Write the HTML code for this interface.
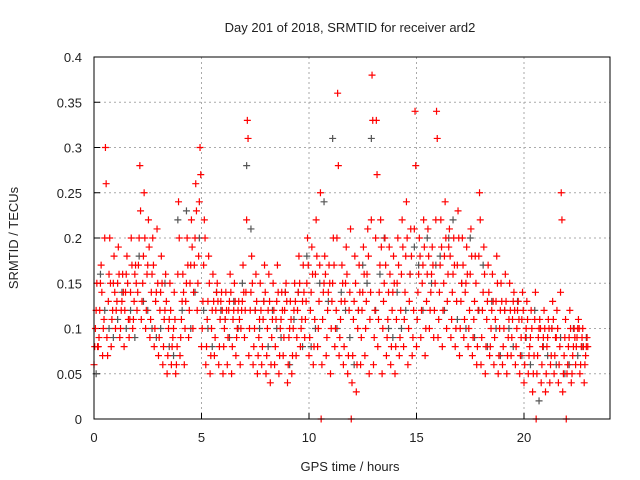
<!DOCTYPE html>
<html><head><meta charset="utf-8"><style>
html,body{margin:0;padding:0;background:#fff;}
svg{display:block;font-family:"Liberation Sans",sans-serif;}
</style></head><body>
<svg id="chart" width="640" height="480" viewBox="0 0 640 480">
<text x="350" y="32" font-size="13" text-anchor="middle" fill="#222">Day 201 of 2018, SRMTID for receiver ard2</text>
<text x="350" y="471" font-size="13" text-anchor="middle" fill="#222">GPS time / hours</text>
<text x="18" y="238" font-size="13" text-anchor="middle" fill="#222" transform="rotate(-90 18 238)">SRMTID / TECUs</text>
<g id="grid"></g>
<g id="ticks"></g>
<g id="gray"></g>
<g id="red"></g>
<rect x="94" y="57" width="516" height="362" fill="none" stroke="#000" stroke-width="1"/>
</svg>
<script>
const xTicks=[0,5,10,15,20];
const yTicks=[0,0.05,0.1,0.15,0.2,0.25,0.3,0.35,0.4];
const yTickLabels=["0","0.05","0.1","0.15","0.2","0.25","0.3","0.35","0.4"];
const timeStep=0.2;
const redA=[.06,.08,.07,.09,.08,.10,.09,.08,.11,.10,.12,.11,.10,.09,.08,.07,.06,.05,.06,.05,.07,.06,.09,.10,.12,.08,.06,.05,.07,.06,.05,.06,.05,.07,.06,.09,.07,.06,.05,.06,.05,.04,.06,.05,.07,.04,.05,.07,.08,.09,.07,.06,.08,.06,.07,.05,.08,.07,.06,.05,.04,.03,.06,.07,.05,.06,.08,.05,.07,.06,.05,.07,.08,.06,.07,.08,.09,.07,.10,.09,.09,.08,.10,.09,.08,.07,.09,.08,.07,.06,.06,.05,.07,.06,.05,.06,.05,.07,.06,.05,.04,.05,.03,.05,.04,.03,.04,.05,.04,.03,.05,.04,.06,.05,.04];
const redB=[.10,.12,.11,.13,.12,.13,.12,.14,.11,.13,.17,.15,.16,.14,.13,.12,.11,.10,.09,.08,.11,.13,.15,.17,.18,.13,.11,.10,.12,.11,.10,.12,.11,.10,.12,.14,.12,.10,.09,.11,.10,.09,.11,.10,.12,.09,.10,.12,.11,.13,.12,.11,.13,.14,.12,.13,.12,.11,.13,.12,.11,.10,.12,.13,.14,.12,.14,.13,.11,.12,.11,.12,.14,.13,.12,.14,.15,.13,.14,.15,.14,.15,.16,.14,.13,.13,.14,.12,.11,.12,.12,.11,.10,.11,.10,.10,.09,.11,.10,.09,.09,.08,.07,.09,.08,.08,.07,.09,.08,.07,.08,.07,.09,.08,.07];
const redC=[.15,.17,.30,.20,.18,.19,.16,.18,.20,.17,.28,.25,.22,.20,.21,.18,.16,.15,.14,.24,.16,.20,.22,.26,.30,.22,.18,.16,.15,.14,.14,.16,.15,.13,.17,.33,.18,.16,.15,.17,.16,.15,.17,.14,.15,.13,.15,.18,.17,.20,.19,.22,.25,.18,.17,.20,.36,.17,.19,.21,.18,.17,.19,.21,.38,.33,.22,.20,.19,.18,.20,.22,.24,.21,.34,.20,.22,.21,.19,.34,.22,.24,.21,.20,.23,.20,.19,.21,.18,.25,.19,.17,.16,.18,.15,.16,.15,.14,.13,.14,.13,.12,.14,.11,.12,.11,.13,.12,.25,.11,.12,.10,.11,.10,.09];
const redD=[.08,.14,.26,.15,.14,.16,.14,.15,.17,.15,.23,.20,.19,.17,.15,.15,.13,.12,.11,.20,.14,.17,.19,.23,.27,.20,.15,.13,.13,.12,.12,.14,.13,.11,.14,.31,.15,.13,.12,.14,.13,.12,.14,.12,.13,.11,.13,.15,.14,.17,.16,.18,.00,.16,.15,.17,.28,.15,.16,.00,.15,.14,.16,.18,.33,.27,.19,.17,.16,.15,.17,.19,.20,.18,.28,.18,.19,.18,.17,.31,.19,.20,.18,.17,.20,.17,.16,.18,.15,.22,.16,.14,.13,.15,.13,.13,.12,.12,.11,.12,.11,.10,.00,.10,.10,.10,.11,.10,.22,.00,.10,.09,.10,.08,.08];
const redE=[.08,.09,.10,.07,.11,.12,.10,.12,.09,.11,.14,.13,.12,.11,.10,.09,.08,.07,.08,.06,.09,.10,.12,.14,.15,.10,.08,.07,.09,.08,.08,.09,.08,.09,.10,.12,.10,.08,.07,.08,.07,.06,.08,.07,.09,.06,.07,.09,.10,.11,.09,.08,.10,.11,.09,.10,.10,.09,.08,.07,.07,.06,.09,.10,.11,.09,.11,.10,.09,.08,.08,.09,.11,.10,.09,.11,.12,.10,.12,.12,.11,.12,.13,.11,.10,.10,.11,.10,.09,.08,.09,.08,.08,.09,.07,.08,.07,.09,.08,.07,.06,.07,.05,.07,.06,.05,.06,.07,.06,.05,.06,.05,.08,.06,.06];
const redF=[.12,.15,.20,.16,.15,.15,.13,.16,.14,.16,.20,.18,.17,.16,.14,.14,.12,.11,.10,.16,.13,.15,.17,.20,.24,.17,.13,.12,.14,.13,.11,.13,.12,.12,.13,.22,.14,.12,.11,.13,.12,.11,.13,.11,.14,.10,.12,.14,.13,.15,.14,.16,.17,.15,.14,.15,.20,.13,.15,.14,.13,.12,.14,.16,.22,.20,.17,.15,.14,.14,.15,.16,.18,.16,.21,.16,.17,.16,.16,.22,.17,.18,.19,.16,.17,.15,.15,.16,.13,.18,.14,.13,.12,.13,.12,.12,.11,.13,.12,.11,.10,.09,.11,.10,.09,.09,.10,.09,.14,.09,.09,.08,.10,.09,.08];
const grayE=[.05,.16,.12,.10,.09,.11,.14,.10,.12,.09,.18,.13,.12,.10,.09,.10,.15,.08,.07,.22,.12,.23,.10,.14,.20,.12,.10,.08,.14,.12,.11,.09,.13,.10,.15,.28,.21,.12,.10,.13,.08,.12,.10,.09,.14,.06,.11,.14,.08,.18,.08,.10,.15,.24,.13,.31,.10,.14,.12,.09,.06,.12,.17,.15,.31,.12,.16,.20,.10,.09,.14,.10,.12,.16,.19,.17,.12,.20,.15,.17,.18,.12,.20,.22,.11,.15,.10,.20,.09,.12,.17,.08,.13,.10,.07,.12,.10,.08,.13,.07,.09,.06,.12,.02,.08,.07,.10,.06,.09,.05,.06,.10,.07,.08,.09];

const NS="http://www.w3.org/2000/svg";
const X0=94,X1=610,Y0=419,Y1=57,XMAX=24,YMAX=0.4;
function xs(v){return X0+(X1-X0)*v/XMAX;}
function ys(v){return Y0-(Y0-Y1)*v/YMAX;}
const grid=document.getElementById('grid'),ticks=document.getElementById('ticks');
function line(p,x1,y1,x2,y2,st,w,da){const l=document.createElementNS(NS,'line');l.setAttribute('x1',x1);l.setAttribute('y1',y1);l.setAttribute('x2',x2);l.setAttribute('y2',y2);l.setAttribute('stroke',st);l.setAttribute('stroke-width',w||1);if(da)l.setAttribute('stroke-dasharray',da);p.appendChild(l);return l;}
function txt(p,x,y,s,anchor){const t=document.createElementNS(NS,'text');t.setAttribute('x',x);t.setAttribute('y',y);t.setAttribute('font-size','13');t.setAttribute('fill','#222');t.setAttribute('text-anchor',anchor);t.textContent=s;p.appendChild(t);return t;}
xTicks.forEach(v=>{const x=xs(v);
 if(v>0){const g=line(grid,x,Y0,x,Y1,'#aaa',1,'2,3');

}
 const tk=line(ticks,x,Y0,x,Y0-6,'#000',1);


 const lb=txt(ticks,x,442,String(v),'middle');

});
yTicks.forEach((v,i)=>{const y=ys(v);
 if(v>0){const g=line(grid,X0,y,X1,y,'#aaa',1,'2,3');

}
 const tk=line(ticks,X0,y,X0+6,y,'#000',1);


 const lb=txt(ticks,82,y+5,yTickLabels[i],'end');

});
function plus(p,t,v,col){const x=xs(t),y=ys(v);const g=document.createElementNS(NS,'path');
g.setAttribute('d','M'+(x-3.5)+' '+y+'h7M'+x+' '+(y-3.5)+'v7');g.setAttribute('stroke',col);g.setAttribute('stroke-width','1.2');g.setAttribute('fill','none');


p.appendChild(g);}
const gray=document.getElementById('gray'),red=document.getElementById('red');
grayE.forEach((v,i)=>plus(gray,i*timeStep+0.1,v,'#555'));
[redA,redE,redB,redF,redC,redD].forEach((arr,k)=>arr.forEach((v,i)=>plus(red,i*timeStep+k*0.033,v,'#ff0000')));
</script>
</body></html>
